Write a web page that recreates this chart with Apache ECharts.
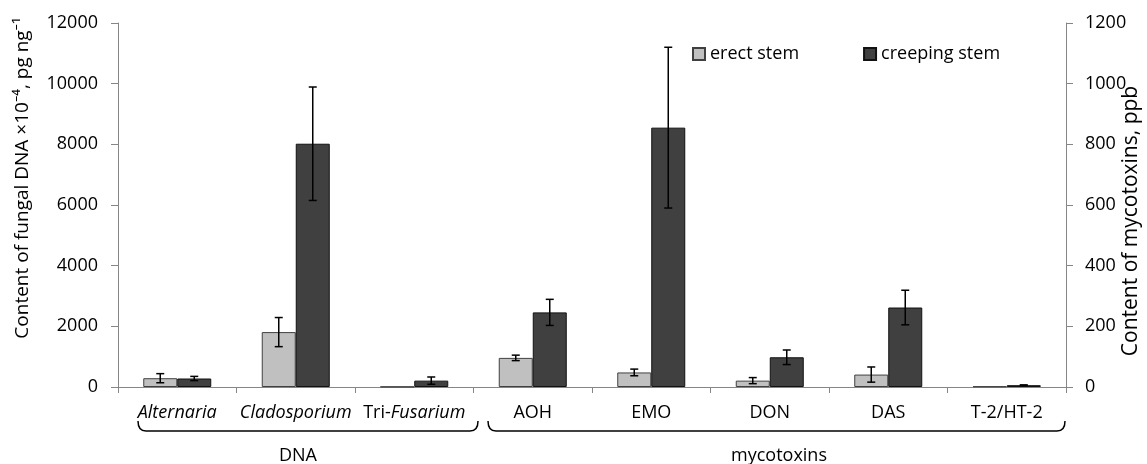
<!DOCTYPE html>
<html>
<head>
<meta charset="utf-8">
<script src="https://cdn.jsdelivr.net/npm/echarts@6/dist/echarts.min.js"></script>
<style>
html,body{margin:0;padding:0;background:#fff;}
#c{width:1147px;height:464px;}
</style>
</head>
<body>
<div id="c"></div>
<script>
// ---- data ----
const categories = ['Alternaria', 'Cladosporium', 'Tri-Fusarium', 'AOH', 'EMO', 'DON', 'DAS', 'T-2/HT-2'];
// fungal DNA (left axis), only first three categories
const dnaErect      = [290, 1810, 10, '-', '-', '-', '-', '-'];
const dnaErectErr   = [150, 480, 0, '-', '-', '-', '-', '-'];
const dnaCreep      = [280, 8020, 210, '-', '-', '-', '-', '-'];
const dnaCreepErr   = [70, 1870, 120, '-', '-', '-', '-', '-'];
// mycotoxins (right axis)
const mycErect      = ['-', '-', '-', 96, 48, 21, 41, 2];
const mycErectErr   = ['-', '-', '-', 9, 11, 10, 25, 0];
const mycCreep      = ['-', '-', '-', 246, 855, 98, 262, 6];
const mycCreepErr   = ['-', '-', '-', 43, 265, 24, 57, 1];
const leftTicks = {min: 0, max: 12000, interval: 2000};
const rightTicks = {min: 0, max: 1200, interval: 200};

const FONT = '"Open Sans", "Noto Sans", sans-serif';
const AX = '#868686';

function errData(vals, errs) {
  const out = [];
  vals.forEach((v, i) => { if (v !== '-' && errs[i] !== '-' && errs[i] > 0) out.push([i, v, errs[i]]); });
  return out;
}
function errSeries(name, vals, errs, axisIdx, side) {
  return {
    name: name, type: 'custom', xAxisIndex: axisIdx, yAxisIndex: axisIdx, z: 5,
    data: errData(vals, errs),
    encode: {x: 0, y: 1},
    renderItem: function (params, api) {
      const c = api.value(0), v = api.value(1), e = api.value(2);
      const top = api.coord([c, v + e]);
      const bot = api.coord([c, v - e]);
      const x = top[0] + side * 17;
      const cap = 4;
      const st = {stroke: '#000', lineWidth: 1.5};
      return {type: 'group', children: [
        {type: 'line', shape: {x1: x, y1: top[1], x2: x, y2: bot[1]}, style: st},
        {type: 'line', shape: {x1: x - cap, y1: top[1], x2: x + cap, y2: top[1]}, style: st},
        {type: 'line', shape: {x1: x - cap, y1: bot[1], x2: x + cap, y2: bot[1]}, style: st}
      ]};
    }
  };
}

const erectStyle = {color: '#c0c0c0', borderColor: '#404040', borderWidth: 1};
const creepStyle = {color: '#404040', borderColor: '#111', borderWidth: 1};

const xLabel = {
  fontFamily: FONT, fontSize: 18, color: '#000', margin: 17, interval: 0, hideOverlap: false,
  formatter: function (v) {
    if (v === 'Alternaria' || v === 'Cladosporium') return '{i|' + v + '}';
    if (v === 'Tri-Fusarium') return '{n|Tri-}{i|Fusarium}';
    return v;
  },
  rich: {
    i: {fontStyle: 'italic', fontFamily: FONT, fontSize: 18, color: '#000'},
    n: {fontFamily: FONT, fontSize: 18, color: '#000'}
  }
};

function brace(x1, x2, yb, h, r) {
  const st = {stroke: '#000', lineWidth: 1.5, fill: null};
  return [
    {type: 'bezierCurve', shape: {x1: x1, y1: yb - h, cpx1: x1, cpy1: yb, x2: x1 + r, y2: yb}, style: st},
    {type: 'line', shape: {x1: x1 + r, y1: yb, x2: x2 - r, y2: yb}, style: st},
    {type: 'bezierCurve', shape: {x1: x2 - r, y1: yb, cpx1: x2, cpy1: yb, x2: x2, y2: yb - h}, style: st}
  ];
}

const plain = function (v) { return String(v); };

const chart = echarts.init(document.getElementById('c'), null, {renderer: 'canvas'});

chart.setOption({
  animation: false,
  backgroundColor: '#fff',
  grid: {left: 118, right: 81, top: 23, bottom: 77, containLabel: false},
  legend: {
    data: ['erect stem', 'creeping stem'],
    left: 687, top: 40, icon: 'rect', itemWidth: 12, itemHeight: 12, itemGap: 64,
    textStyle: {fontFamily: FONT, fontSize: 18, color: '#000'},
    selectedMode: false
  },
  xAxis: [
    {type: 'category', data: categories, gridIndex: 0,
     axisLine: {lineStyle: {color: AX}}, axisTick: {show: true, length: 6, interval: 0, lineStyle: {color: AX}},
     axisLabel: xLabel},
    {type: 'category', data: categories, gridIndex: 0, show: false}
  ],
  yAxis: [
    {type: 'value', min: leftTicks.min, max: leftTicks.max, interval: leftTicks.interval,
     splitLine: {show: false},
     axisLine: {show: true, lineStyle: {color: AX}},
     axisTick: {show: true, length: 7, lineStyle: {color: AX}},
     axisLabel: {fontFamily: FONT, fontSize: 18, color: '#000', margin: 20, formatter: plain}},
    {type: 'value', min: rightTicks.min, max: rightTicks.max, interval: rightTicks.interval,
     position: 'right', splitLine: {show: false},
     axisLine: {show: true, lineStyle: {color: AX}},
     axisTick: {show: true, length: 7, lineStyle: {color: AX}},
     axisLabel: {fontFamily: FONT, fontSize: 18, color: '#000', margin: 19, formatter: plain}}
  ],
  series: [
    {name: 'erect stem', type: 'bar', xAxisIndex: 0, yAxisIndex: 0, data: dnaErect,
     barWidth: 34, barGap: '0%', itemStyle: erectStyle},
    {name: 'creeping stem', type: 'bar', xAxisIndex: 0, yAxisIndex: 0, data: dnaCreep,
     barWidth: 34, barGap: '0%', itemStyle: creepStyle},
    {name: 'erect stem', type: 'bar', xAxisIndex: 1, yAxisIndex: 1, data: mycErect,
     barWidth: 34, barGap: '0%', itemStyle: erectStyle},
    {name: 'creeping stem', type: 'bar', xAxisIndex: 1, yAxisIndex: 1, data: mycCreep,
     barWidth: 34, barGap: '0%', itemStyle: creepStyle},
    errSeries('e1', dnaErect, dnaErectErr, 0, -1),
    errSeries('e2', dnaCreep, dnaCreepErr, 0, 1),
    errSeries('e3', mycErect, mycErectErr, 1, -1),
    errSeries('e4', mycCreep, mycCreepErr, 1, 1)
  ],
  graphic: [
    {type: 'text', x: 23, y: 178, rotation: Math.PI / 2,
     style: {text: 'Content of fungal DNA \u00d710\u207b\u2074, pg ng\u207b\u00b9', fontFamily: FONT, fontSize: 19, fill: '#000',
       align: 'center', verticalAlign: 'middle'}},
    {type: 'text', x: 1131, y: 221, rotation: Math.PI / 2,
     style: {text: 'Content of mycotoxins, ppb', fontFamily: FONT, fontSize: 21, fill: '#000',
       align: 'center', verticalAlign: 'middle'}}
  ].concat(brace(138, 478, 431, 10, 8), brace(488, 1065, 431, 10, 8), [
    {type: 'text', x: 298, y: 456,
     style: {text: 'DNA', fontFamily: FONT, fontSize: 18, fill: '#000', align: 'center', verticalAlign: 'middle'}},
    {type: 'text', x: 779, y: 456,
     style: {text: 'mycotoxins', fontFamily: FONT, fontSize: 18, fill: '#000', align: 'center', verticalAlign: 'middle'}}
  ])
});
</script>
</body>
</html>
